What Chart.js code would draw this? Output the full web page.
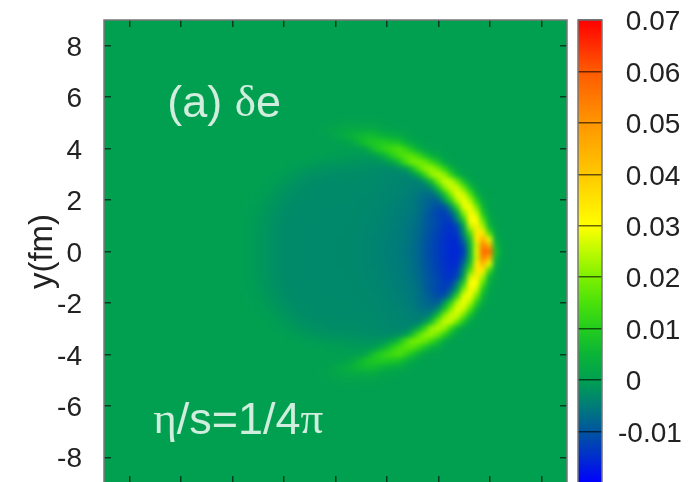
<!DOCTYPE html>
<html>
<head>
<meta charset="utf-8">
<script src="https://cdn.jsdelivr.net/npm/chart.js@4"></script>
<style>
  html, body { margin: 0; padding: 0; width: 697px; height: 482px; overflow: hidden; background: #fff; }
  canvas { position: absolute; top: 0; filter: blur(0.6px); }
  #heat { left: 0; }
  #bar { left: 570px; }
</style>
</head>
<body>
<canvas id="heat" width="570" height="520"></canvas>
<canvas id="bar" width="127" height="520"></canvas>
<script>
// y tick / x tick positions (fm)
const axisTicks = [-8, -6, -4, -2, 0, 2, 4, 6, 8];
const colorTicks = [-0.02, -0.01, 0, 0.01, 0.02, 0.03, 0.04, 0.05, 0.06, 0.07];

// palette of the colour bar, stops in units of 0.001
const stopValues = [-20, -15, -10, -5, 0, 5, 10, 15, 20, 25, 30, 40, 50, 60, 70];
const stopColors = [
  [0, 0, 255], [0, 45, 205], [0, 85, 160], [0, 125, 120], [0, 160, 80],
  [10, 180, 55], [35, 205, 30], [75, 225, 10], [125, 240, 0], [190, 250, 0],
  [255, 255, 0], [255, 200, 0], [255, 150, 0], [255, 90, 0], [255, 0, 0]
];

// grid of the picture: column x (fm), row |y| (fm); the picture is mirrored in y
const xCols = [-4, -3.75, -3.5, -3.25, -3, -2.75, -2.5, -2.25, -2, -1.75, -1.5, -1.25, -1, -0.75, -0.5, -0.25,
  0, 0.25, 0.5, 0.75, 1, 1.25, 1.5, 1.75, 2, 2.25, 2.5, 2.75, 3, 3.25, 3.5, 3.75,
  4, 4.25, 4.5, 4.75, 5, 5.25, 5.5, 5.75, 6, 6.25, 6.5, 6.75];
const yRows = [0, 0.25, 0.5, 0.75, 1, 1.25, 1.5, 1.75, 2, 2.25, 2.5, 2.75, 3, 3.25, 3.5, 3.75, 4, 4.25, 4.5, 4.75, 5];

// delta e, units of 0.001, one line per row of yRows
const deltaE = [
  [0,-.1,-.3,-.6,-1.1,-1.6,-2.2,-2.7,-3,-3.1,-3.2,-3.2,-3.2,-3.2,-3.3,-3.3, -3.3,-3.4,-3.4,-3.5,-3.6,-3.8,-4,-4.3,-4.6,-5,-5.5,-6,-6.8,-8,-10,-11.5, -13,-14.5,-15.5,-16,-13,4,28,58,58,8,.8,0],
  [0,-.1,-.3,-.6,-1.1,-1.6,-2.2,-2.7,-3,-3.1,-3.2,-3.2,-3.2,-3.2,-3.3,-3.3, -3.3,-3.4,-3.4,-3.5,-3.6,-3.8,-4,-4.3,-4.6,-5,-5.4,-5.9,-6.7,-7.9,-10,-11.5, -13,-14.5,-15.5,-15.5,-11,5,26,54,45,6,.4,0],
  [0,-.1,-.3,-.6,-1.1,-1.6,-2.2,-2.7,-3,-3.1,-3.2,-3.2,-3.2,-3.2,-3.3,-3.3, -3.3,-3.4,-3.4,-3.5,-3.6,-3.8,-4,-4.2,-4.5,-4.9,-5.3,-5.8,-6.6,-7.8,-9.8,-11.3, -12.8,-14.3,-15.3,-15,-7,8,33,44,28,3,.2,0],
  [0,-.1,-.3,-.6,-1.1,-1.6,-2.2,-2.7,-3,-3.1,-3.2,-3.2,-3.2,-3.2,-3.3,-3.3, -3.3,-3.3,-3.4,-3.4,-3.6,-3.7,-3.9,-4.2,-4.5,-4.8,-5.2,-5.7,-6.5,-7.6,-9.5,-11, -12.5,-14,-15,-13.5,-3,15,34,34,14,1.5,.1,0],
  [0,-.1,-.3,-.6,-1,-1.5,-2.1,-2.6,-3,-3.1,-3.2,-3.2,-3.2,-3.2,-3.3,-3.3, -3.3,-3.3,-3.4,-3.4,-3.5,-3.7,-3.9,-4.1,-4.4,-4.7,-5.1,-5.6,-6.3,-7.4,-9,-10.5, -12,-13.8,-14.5,-11.5,0,25,33,23,5.5,.8,.1,0],
  [0,0,-.2,-.5,-.9,-1.4,-2,-2.5,-2.9,-3,-3.1,-3.2,-3.2,-3.2,-3.2,-3.3, -3.3,-3.3,-3.3,-3.4,-3.5,-3.6,-3.8,-4,-4.3,-4.6,-5,-5.4,-6,-7,-9,-10.5, -11.5,-13.3,-13,-5,10,30,30,16,3,.4,0,0],
  [0,0,-.2,-.4,-.7,-1.2,-1.8,-2.3,-2.8,-3,-3.1,-3.1,-3.2,-3.2,-3.2,-3.2, -3.3,-3.3,-3.3,-3.4,-3.4,-3.6,-3.7,-3.9,-4.2,-4.5,-4.8,-5.2,-5.8,-6.8,-8.5,-10.5, -12,-13,-9,0,20,31,26,9,1.3,.2,0,0],
  [0,0,-.1,-.3,-.6,-1,-1.5,-2.1,-2.6,-2.9,-3,-3.1,-3.1,-3.2,-3.2,-3.2, -3.2,-3.3,-3.3,-3.3,-3.4,-3.5,-3.6,-3.8,-4.1,-4.3,-4.6,-5,-5.5,-6.5,-8,-9.5, -11,-10.5,-3,12,28,29,19,5.5,.7,.1,0,0],
  [0,0,-.1,-.2,-.4,-.8,-1.2,-1.8,-2.3,-2.7,-2.9,-3,-3.1,-3.1,-3.2,-3.2, -3.2,-3.2,-3.2,-3.3,-3.3,-3.4,-3.5,-3.7,-3.9,-4.1,-4.4,-4.8,-5.4,-6.5,-7.5,-8.5, -9,-1.5,10,24,29,24,11,2.5,.4,0,0,0],
  [0,0,0,-.1,-.3,-.5,-.9,-1.4,-2,-2.4,-2.7,-2.9,-3,-3.1,-3.1,-3.2, -3.2,-3.2,-3.2,-3.2,-3.3,-3.3,-3.4,-3.6,-3.8,-4,-4.2,-4.5,-5,-6,-6.8,-7, -3,7,20,28,26,16,5,.6,.1,0,0,0],
  [0,0,0,0,-.1,-.3,-.6,-1,-1.5,-2,-2.4,-2.7,-2.9,-3,-3,-3.1, -3.1,-3.1,-3.1,-3.2,-3.2,-3.2,-3.3,-3.4,-3.6,-3.8,-4,-4.3,-4.6,-4.8,-5.2,-2.5, 7,20,26,26,18,7.5,1.2,.2,0,0,0,0],
  [0,0,0,0,0,-.1,-.3,-.6,-1,-1.5,-1.9,-2.3,-2.6,-2.8,-2.9,-3, -3,-3,-3,-3,-3.1,-3.1,-3.2,-3.3,-3.5,-3.7,-3.9,-4.2,-4.5,-4.5,-1,7, 19,25.5,25,18,8,1.8,.3,0,0,0,0,0],
  [0,0,0,0,0,0,-.1,-.3,-.5,-.9,-1.3,-1.7,-2.1,-2.3,-2.5,-2.6, -2.7,-2.7,-2.8,-2.8,-2.9,-3,-3.1,-3.2,-3.3,-3.6,-3.8,-4,-2,3,12,21.5, 24,21.5,13,5,1,.2,0,0,0,0,0,0],
  [0,0,0,0,0,0,0,-.1,-.2,-.4,-.7,-1,-1.3,-1.6,-1.8,-2, -2.1,-2.2,-2.3,-2.4,-2.5,-2.6,-2.8,-3,-3.1,-2.8,-2,-.3,7,15.5,21,22, 18,11.5,5,1.2,.3,0,0,0,0,0,0,0],
  [0,0,0,0,0,0,0,0,0,-.1,-.2,-.3,-.5,-.7,-.9,-1, -1.2,-1.3,-1.5,-1.6,-1.8,-1.9,-1.8,-1.6,-.4,2,7,14,19,19.5,17.5,13, 8,2.5,.6,.1,0,0,0,0,0,0,0,0],
  [0,0,0,0,0,0,0,0,0,0,0,0,0,-.1,-.2,-.3, -.4,-.5,-.6,-.7,-.8,-.8,-.3,2,6,10.5,14,16,16,12.5,8,4, 2.5,.5,.1,0,0,0,0,0,0,0,0,0],
  [0,0,0,0,0,0,0,0,0,0,0,0,0,0,0,0, -.1,-.1,-.2,-.2,0,2,7,10,12,14,15,12,8,4.5,1.5,.5, .5,.1,0,0,0,0,0,0,0,0,0,0],
  [0,0,0,0,0,0,0,0,0,0,0,0,0,0,0,0, 0,.3,1,2.5,5.5,8,9,9.5,9.5,9,8,5,2.5,1,.3,.1, 0,0,0,0,0,0,0,0,0,0,0,0],
  [0,0,0,0,0,0,0,0,0,0,0,0,0,0,0,.1, 1.5,2.5,3.5,5,6,6.5,6.5,5.5,4.5,3.5,3,1.5,.6,.2,0,0, 0,0,0,0,0,0,0,0,0,0,0,0],
  [0,0,0,0,0,0,0,0,0,0,0,0,0,.1,.4,.9, 1.5,2,2.5,2.7,2.8,2.9,3,2,1.2,.9,.7,.3,.1,0,0,0, 0,0,0,0,0,0,0,0,0,0,0,0],
  [0,0,0,0,0,0,0,0,0,0,0,0,0,0,.1,.3, .5,.8,.9,.9,.8,.8,.8,.5,.2,.1,.1,0,0,0,0,0, 0,0,0,0,0,0,0,0,0,0,0,0]
];

const textColor = '#222';
const noteColor = 'rgba(232,245,236,0.9)';
const sans = '"Liberation Sans", Arial, sans-serif';
const serif = '"Liberation Serif", serif';

// text inside the plot, placed at data coordinates
const notes = [
  { x: -6.54, y: 5.73, parts: [['(a) ', sans], ['δ', serif], ['e', sans]] },
  { x: -7.09, y: -6.6, parts: [['η', serif], ['/s=1/4', sans], ['π', serif]] }
];

function colorOf(v) {
  let i = 0;
  while (i < stopValues.length - 2 && v > stopValues[i + 1]) i++;
  let t = (v - stopValues[i]) / (stopValues[i + 1] - stopValues[i]);
  t = Math.max(0, Math.min(1, t));
  const a = stopColors[i], b = stopColors[i + 1];
  return `rgb(${a[0] + (b[0] - a[0]) * t},${a[1] + (b[1] - a[1]) * t},${a[2] + (b[2] - a[2]) * t})`;
}

const cells = [];
yRows.forEach((y, j) => {
  xCols.forEach((x, i) => {
    cells.push({ x: x, y: y, v: deltaE[j][i] });
    if (y !== 0) cells.push({ x: x, y: -y, v: deltaE[j][i] });
  });
});

const setTicks = list => scale => { scale.ticks = list.map(v => ({ value: v })); };
const inwardGrid = { drawOnChartArea: false, tickLength: -7, color: 'rgba(0,0,0,0.6)', lineWidth: 1.5, z: 1 };

const frame = {
  id: 'frame',
  afterDraw(chart) {
    const { ctx, chartArea: a } = chart;
    ctx.save();
    ctx.strokeStyle = '#777';
    ctx.lineWidth = 1.5;
    ctx.strokeRect(a.left, a.top, a.right - a.left, a.bottom - a.top);
    ctx.restore();
  }
};

// background in the zero colour, then soften the cell grid like the original image
const heatPaint = {
  id: 'heatPaint',
  beforeDatasetsDraw(chart) {
    const { ctx, chartArea: a } = chart;
    ctx.save();
    ctx.fillStyle = colorOf(0);
    ctx.fillRect(a.left, a.top, a.right - a.left, a.bottom - a.top);
    ctx.restore();
  },
  afterDatasetsDraw(chart) {
    const { ctx, chartArea: a } = chart;
    const w = a.right - a.left, h = a.bottom - a.top;
    ctx.save();
    ctx.beginPath();
    ctx.rect(a.left, a.top, w, h);
    ctx.clip();
    ctx.filter = 'blur(2.5px)';
    ctx.drawImage(chart.canvas, a.left, a.top, w, h, a.left, a.top, w, h);
    ctx.restore();
  },
  afterDraw(chart) {
    const { ctx, scales } = chart;
    ctx.save();
    ctx.fillStyle = noteColor;
    ctx.textBaseline = 'middle';
    notes.forEach(n => {
      let px = scales.x.getPixelForValue(n.x);
      const py = scales.y.getPixelForValue(n.y);
      n.parts.forEach(p => {
        ctx.font = '45px ' + p[1];
        ctx.fillText(p[0], px, py);
        px += ctx.measureText(p[0]).width;
      });
    });
    ctx.restore();
  }
};

new Chart(document.getElementById('heat'), {
  type: 'scatter',
  data: {
    datasets: [{
      data: cells,
      pointStyle: 'rect',
      borderWidth: 0,
      pointBorderWidth: 0,
      pointBackgroundColor: c => colorOf(c.raw.v),
      pointRadius: c => {
        const s = c.chart.scales.x;
        return (Math.abs(s.getPixelForValue(0.25) - s.getPixelForValue(0)) / 2 + 0.5) * Math.SQRT2;
      }
    }]
  },
  options: {
    responsive: false,
    animation: false,
    layout: { padding: 0 },
    plugins: { legend: { display: false }, tooltip: { enabled: false } },
    scales: {
      x: {
        position: 'bottom', min: -9, max: 9,
        afterBuildTicks: setTicks(axisTicks),
        afterFit: s => { s.height = 37; },
        ticks: { display: false },
        grid: inwardGrid,
        border: { display: false }
      },
      x2: {
        axis: 'x', position: 'top', min: -9, max: 9,
        afterBuildTicks: setTicks(axisTicks),
        afterFit: s => { s.height = 20; },
        ticks: { display: false },
        grid: inwardGrid,
        border: { display: false }
      },
      y: {
        position: 'left', min: -9, max: 9,
        afterBuildTicks: setTicks(axisTicks),
        afterFit: s => { s.width = 104; s.paddingTop = 0; s.paddingBottom = 0; },
        ticks: {
          padding: 29, color: textColor, autoSkip: false, labelOffset: 2.5,
          font: { family: sans, size: 28 },
          callback: v => String(v)
        },
        title: {
          display: true, text: 'y(fm)', color: textColor,
          font: { family: sans, size: 33 },
          padding: { top: 23, bottom: 0 }
        },
        grid: inwardGrid,
        border: { display: false }
      },
      y2: {
        axis: 'y', position: 'right', min: -9, max: 9,
        afterBuildTicks: setTicks(axisTicks),
        afterFit: s => { s.width = 3; s.paddingTop = 0; s.paddingBottom = 0; },
        ticks: { display: false },
        grid: inwardGrid,
        border: { display: false }
      }
    }
  },
  plugins: [heatPaint, frame]
});

new Chart(document.getElementById('bar'), {
  type: 'bar',
  data: {
    labels: ['bar'],
    datasets: [{
      data: [[colorTicks[0], colorTicks[colorTicks.length - 1]]],
      barPercentage: 1,
      categoryPercentage: 1,
      backgroundColor: c => {
        const s = c.chart.scales.y;
        const lo = s.getPixelForValue(-0.02), hi = s.getPixelForValue(0.07);
        if (!Number.isFinite(lo) || !Number.isFinite(hi)) return colorOf(0);
        const g = c.chart.ctx.createLinearGradient(0, lo, 0, hi);
        stopValues.forEach(v => g.addColorStop((v + 20) / 90, colorOf(v)));
        return g;
      }
    }]
  },
  options: {
    responsive: false,
    animation: false,
    layout: { padding: { left: 8, top: 20, bottom: 37, right: 0 } },
    plugins: { legend: { display: false }, tooltip: { enabled: false } },
    scales: {
      x: { display: false },
      y: {
        position: 'right', min: -0.02, max: 0.07,
        afterBuildTicks: setTicks(colorTicks),
        afterFit: s => { s.width = 95; s.paddingTop = 0; s.paddingBottom = 0; },
        ticks: {
          padding: 16, color: textColor, autoSkip: false, crossAlign: 'near', labelOffset: 2.5,
          font: { family: sans, size: 28 },
          // the lowest label is cut off by the edge of the picture
          callback: v => {
            if (v < -0.015) return '';
            if (Math.abs(v) < 1e-9) return ' 0';
            return v < 0 ? v.toFixed(2) : ' ' + v.toFixed(2);
          }
        },
        grid: { color: 'rgba(0,0,0,0.6)', lineWidth: 1.5, drawTicks: false, z: 1 },
        border: { display: false }
      }
    }
  },
  plugins: [frame]
});
</script>
</body>
</html>
